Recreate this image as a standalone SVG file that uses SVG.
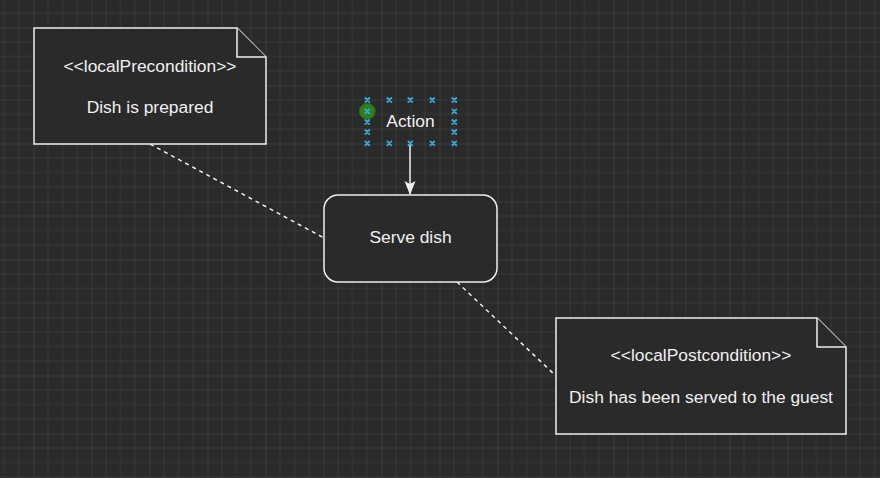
<svg xmlns="http://www.w3.org/2000/svg" width="880" height="478" viewBox="0 0 880 478">
<style>
.box{fill:#2a2a2a;stroke:#eeeeee;stroke-width:1.5}
.t{font-family:"Liberation Sans",Arial,sans-serif;font-size:17.4px;fill:#f0f0f0;text-anchor:middle}
.dash{fill:none;stroke:#eeeeee;stroke-width:1.5;stroke-dasharray:4 4}
.h{stroke:#3ba8dc;stroke-width:1.8;fill:none}
</style>
<defs>
<pattern id="grid" x="33.5" y="27.5" width="58" height="58" patternUnits="userSpaceOnUse">
<path d="M14.5 0V58M29 0V58M43.5 0V58M0 14.5H58M0 29H58M0 43.5H58" stroke="#383838" stroke-width="1" fill="none"/>
<path d="M0 0V58M0 0H58" stroke="#4c4c4c" stroke-width="1" fill="none"/>
</pattern>
</defs>
<rect width="880" height="478" fill="#2a2a2a"/>
<rect width="880" height="478" fill="url(#grid)"/>
<g id="connectors">
<path class="dash" d="M150 144L324 238"/>
<path class="dash" d="M457 282L556 376"/>
<path d="M410 143V194" stroke="#eeeeee" stroke-width="1.5" fill="none"/>
<path d="M404.5 181L410 195L415.5 181L410 184Z" fill="#eeeeee"/>
</g>
<g id="precondition">
<path class="box" d="M34 28H237L266 57V144H34Z"/>
<path class="box" d="M237 28V57H266"/>
<text class="t" x="150" y="71.5">&lt;&lt;localPrecondition&gt;&gt;</text>
<text class="t" x="150" y="112.5">Dish is prepared</text>
</g>
<g id="serve">
<rect class="box" x="324" y="195" width="173" height="87" rx="14" ry="14"/>
<text class="t" x="410.5" y="243">Serve dish</text>
</g>
<g id="postcondition">
<path class="box" d="M556 318H817L846 347V434H556Z"/>
<path class="box" d="M817 318V347H846"/>
<text class="t" x="701" y="360.5">&lt;&lt;localPostcondition&gt;&gt;</text>
<text class="t" x="701" y="402.5">Dish has been served to the guest</text>
</g>
<g id="action">
<circle cx="367.3" cy="111.3" r="8" fill="#2e7d1f" stroke="#25661a" stroke-width="1"/>
<text class="t" x="410.5" y="127">Action</text>
<path class="h" d="M364.8 97.5l5 5m0-5l-5 5M386.8 97.5l5 5m0-5l-5 5M407.8 97.5l5 5m0-5l-5 5M429.8 97.5l5 5m0-5l-5 5M451.8 97.5l5 5m0-5l-5 5
M364.8 140.8l5 5m0-5l-5 5M386.8 140.8l5 5m0-5l-5 5M407.8 140.8l5 5m0-5l-5 5M429.8 140.8l5 5m0-5l-5 5M451.8 140.8l5 5m0-5l-5 5
M364.8 119.5l5 5m0-5l-5 5M364.8 129.5l5 5m0-5l-5 5
M451.8 108.8l5 5m0-5l-5 5M451.8 119.5l5 5m0-5l-5 5M451.8 129.5l5 5m0-5l-5 5
M364.8 108.8l5 5m0-5l-5 5"/>
</g>
</svg>
